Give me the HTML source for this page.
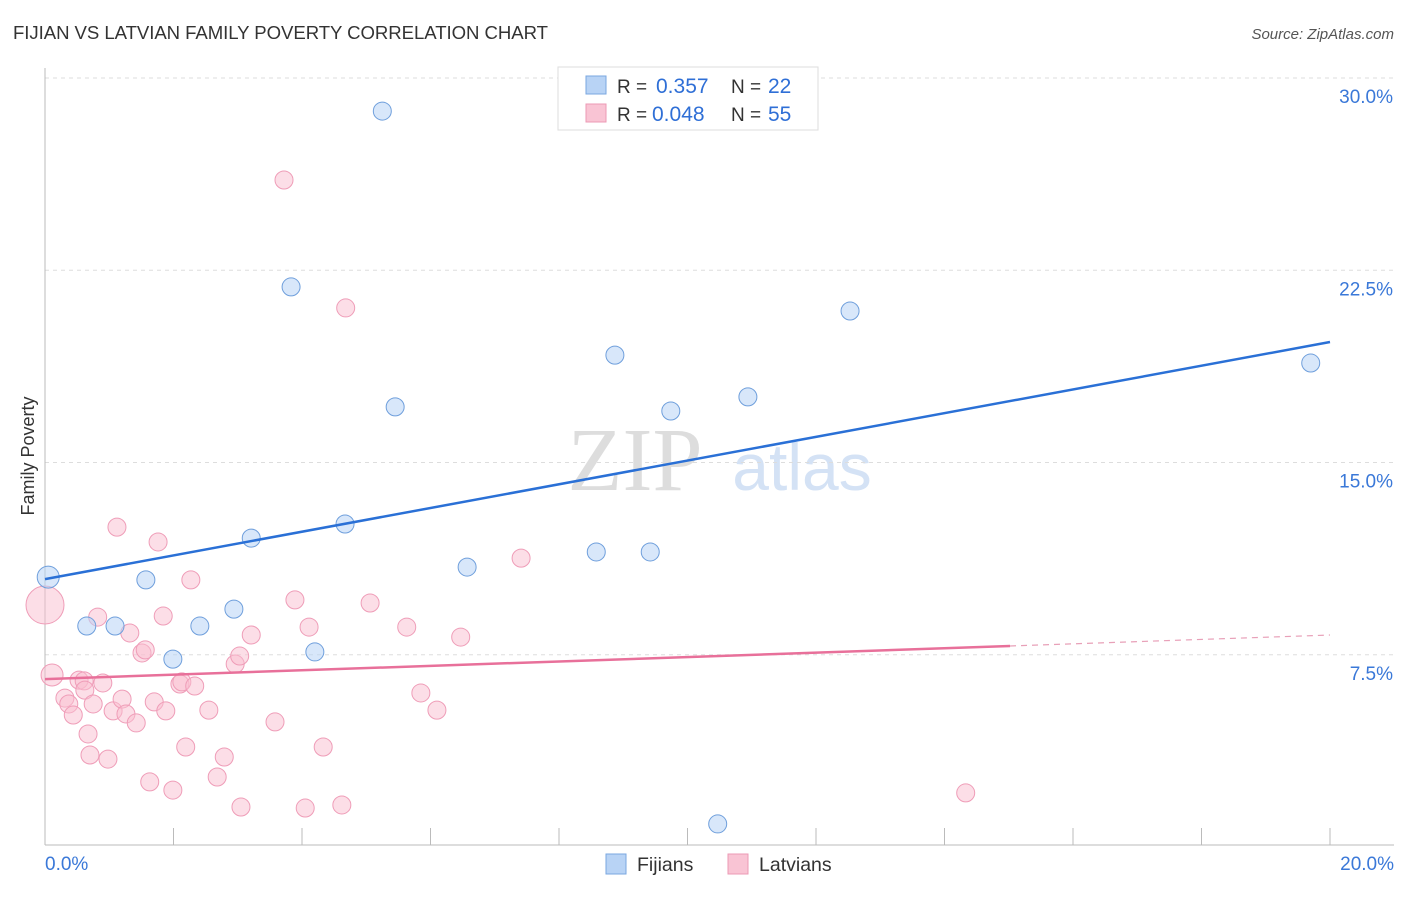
<!DOCTYPE html>
<html><head><meta charset="utf-8"><style>
body{margin:0;background:#fff;font-family:"Liberation Sans",sans-serif}
</style></head><body>
<svg id="c" width="1406" height="892" xmlns="http://www.w3.org/2000/svg" font-family="Liberation Sans, sans-serif">
<text x="13" y="39" font-size="18.6" fill="#333" textLength="535">FIJIAN VS LATVIAN FAMILY POVERTY CORRELATION CHART</text>
<text x="1394" y="39" font-size="15" fill="#555" text-anchor="end" font-style="italic">Source: ZipAtlas.com</text>
<text x="635" y="490" font-size="90" fill="#ddd" font-family="Liberation Serif, serif" text-anchor="middle">ZIP</text>
<text x="802" y="490" font-size="66" fill="#d4e2f5" text-anchor="middle">atlas</text>
<g id="grid"></g>
<g id="marks"></g>
<text transform="translate(34,456) rotate(-90)" font-size="18" fill="#333" text-anchor="middle">Family Poverty</text>
<g>
<rect x="558" y="67" width="260" height="63" fill="#fff" stroke="#ddd"/>
<rect x="586" y="76" width="20" height="18" fill="#b8d3f5" stroke="#7aa7e0"/>
<rect x="586" y="104" width="20" height="18" fill="#f9c4d4" stroke="#ec9ab5"/>
<text x="617" y="93" font-size="19" fill="#333">R =</text>
<text x="656" y="93" font-size="21" fill="#2f6fd6">0.357</text>
<text x="731" y="93" font-size="19" fill="#333">N =</text>
<text x="768" y="93" font-size="21" fill="#2f6fd6">22</text>
<text x="617" y="121" font-size="19" fill="#333">R =</text>
<text x="652" y="121" font-size="21" fill="#2f6fd6">0.048</text>
<text x="731" y="121" font-size="19" fill="#333">N =</text>
<text x="768" y="121" font-size="21" fill="#2f6fd6">55</text>
</g>
<g>
<rect x="606" y="854" width="20" height="20" fill="#b8d3f5" stroke="#7aa7e0"/>
<text x="637" y="871" font-size="19.5" fill="#333">Fijians</text>
<rect x="728" y="854" width="20" height="20" fill="#f9c4d4" stroke="#ec9ab5"/>
<text x="759" y="871" font-size="19.5" fill="#333">Latvians</text>
</g>
</svg>
<script>
const yTicks=[7.5,15,22.5,30];
const yTickLabels=["7.5%","15.0%","22.5%","30.0%"];
const xTickLabels=["0.0%","20.0%"];
const fijiX=[0.05,0.65,1.09,1.57,1.99,2.41,2.94,3.21,3.83,4.20,4.67,5.25,5.45,6.57,8.58,8.87,9.42,9.74,10.47,10.94,12.53,19.70];
const fijiY=[10.53,8.62,8.62,10.42,7.33,8.62,9.28,12.05,21.85,7.61,12.60,28.71,17.17,10.92,11.51,19.19,11.51,17.01,0.90,17.56,20.91,18.88];
const latX=[0.0,0.11,0.31,0.37,0.44,0.53,0.61,0.67,0.62,0.70,0.75,0.82,0.90,0.98,1.06,1.12,1.20,1.26,1.32,1.42,1.51,1.56,1.63,1.70,1.76,1.84,1.88,1.99,2.10,2.13,2.19,2.27,2.33,2.55,2.68,2.79,2.96,3.03,3.05,3.21,3.58,3.72,3.89,4.05,4.11,4.33,4.62,4.68,5.06,5.63,5.85,6.10,6.47,7.41,14.33];
const latY=[9.44,6.71,5.81,5.58,5.15,6.51,6.48,4.41,6.12,3.59,5.58,8.97,6.40,3.43,5.31,12.48,5.77,5.19,8.35,4.84,7.57,7.69,2.54,5.66,11.90,9.01,5.31,2.22,6.36,6.44,3.90,10.42,6.28,5.34,2.73,3.51,7.14,7.45,1.56,8.27,4.88,26.02,9.64,1.52,8.58,3.90,1.64,21.03,9.52,8.58,6.01,5.34,8.19,11.27,2.11];
const fijiTrend=[10.45,19.7];
const latTrend=[6.55,8.27];
const latSolidEnd=15.02;

const NS="http://www.w3.org/2000/svg";
const X=v=>45+v/20*1285;
const Y=v=>847-v/30*769;
function mk(t,a,p){const e=document.createElementNS(NS,t);for(const k in a)e.setAttribute(k,a[k]);p.appendChild(e);return e;}
const grid=document.getElementById('grid'),marks=document.getElementById('marks');
yTicks.forEach((t,i)=>{
 const l=mk('line',{x1:45,x2:1394,y1:Y(t),y2:Y(t),stroke:'#ddd','stroke-dasharray':'4,4'},grid);
 
 
 const tx=mk('text',{x:1393,y:Y(t)+25,'font-size':19,fill:'#3a78d8','text-anchor':'end'},grid);
 tx.textContent=yTickLabels[i];
 
 
});
const ax=mk('line',{x1:45,x2:45,y1:68,y2:845,stroke:'#bbb'},grid);


const bx=mk('line',{x1:45,x2:1394,y1:845,y2:845,stroke:'#bbb'},grid);


for(let i=0;i<=10;i++){const t=mk('line',{x1:X(i*2),x2:X(i*2),y1:828,y2:845,stroke:'#bbb'},grid);
 
 }
[[0,'start',45],[20,'end',1394]].forEach((d,i)=>{const t=mk('text',{x:d[2],y:870,'font-size':19,fill:'#3a78d8','text-anchor':d[1]},grid);t.textContent=xTickLabels[i];
 
 });
latX.forEach((x,i)=>{const c=mk('circle',{cx:X(x),cy:Y(latY[i]),r:i==0?19:(i==1?11:9),fill:'rgba(249,190,208,0.5)',stroke:'#ef9db8','stroke-width':1},marks);
 
 });
fijiX.forEach((x,i)=>{const c=mk('circle',{cx:X(x),cy:Y(fijiY[i]),r:i==0?11:9,fill:'rgba(184,211,245,0.55)',stroke:'#6f9fdc','stroke-width':1},marks);
 
 });
const ft=mk('line',{x1:X(0),y1:Y(fijiTrend[0]),x2:X(20),y2:Y(fijiTrend[1]),stroke:'#2a70d6','stroke-width':2.5},marks);


const ly=x=>latTrend[0]+(latTrend[1]-latTrend[0])*x/20;
const lt=mk('line',{x1:X(0),y1:Y(ly(0)),x2:X(latSolidEnd),y2:Y(ly(latSolidEnd)),stroke:'#e8709a','stroke-width':2.5},marks);


const ld=mk('line',{x1:X(latSolidEnd),y1:Y(ly(latSolidEnd)),x2:X(20),y2:Y(ly(20)),stroke:'#e8a0b8','stroke-width':1.2,'stroke-dasharray':'6,5'},marks);


</script>
</body></html>
